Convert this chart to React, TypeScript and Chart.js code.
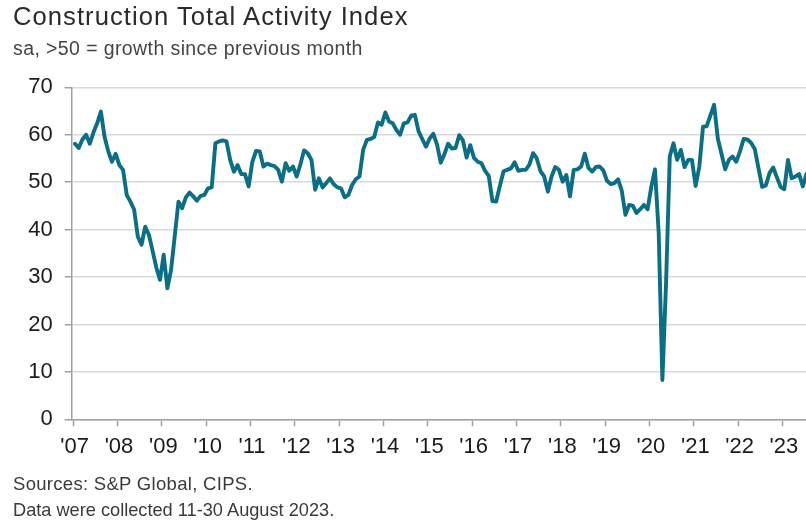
import React, { useEffect, useRef } from "react";
import { Chart, registerables } from "chart.js";

Chart.register(...registerables);

// ---- text ----
const TITLE = "Construction Total Activity Index";
const SUBTITLE = "sa, >50 = growth since previous month";
const SOURCE = "Sources: S&P Global, CIPS.";
const NOTE = "Data were collected 11-30 August 2023.";

// ---- data: monthly index values, Jan 2007 – Aug 2023 ----
const v2007 = [58.1, 57.2, 59.0, 60.0, 58.1, 60.5, 62.4, 64.9, 59.5, 56.5, 54.3, 56.0];
const v2008 = [53.6, 52.6, 47.3, 45.9, 44.2, 38.5, 36.8, 40.6, 38.9, 35.5, 32.0, 29.4];
const v2009 = [34.7, 27.6, 31.5, 38.7, 45.9, 44.5, 46.8, 47.8, 47.0, 46.1, 47.1, 47.3];
const v2010 = [48.7, 48.9, 58.2, 58.6, 58.8, 58.6, 54.7, 52.2, 53.6, 51.7, 51.7, 49.1];
const v2011 = [54.3, 56.6, 56.5, 53.3, 53.9, 53.6, 53.4, 52.6, 50.1, 54.0, 52.4, 53.3];
const v2012 = [51.2, 53.7, 56.7, 56.1, 54.7, 48.4, 50.8, 48.9, 49.8, 50.8, 49.6, 48.9];
const v2013 = [48.7, 46.8, 47.3, 49.4, 50.6, 51.2, 56.8, 58.9, 59.1, 59.5, 62.6, 62.1];
const v2014 = [64.7, 62.8, 62.4, 61.0, 60.0, 62.4, 62.6, 64.0, 64.2, 60.7, 59.1, 57.5];
const v2015 = [59.2, 60.2, 57.9, 54.1, 55.9, 58.1, 57.1, 57.2, 59.9, 58.8, 55.2, 57.8];
const v2016 = [55.1, 54.3, 54.0, 52.4, 51.3, 46.0, 45.9, 49.2, 52.3, 52.6, 52.9, 54.2];
const v2017 = [52.4, 52.6, 52.6, 53.7, 56.1, 55.0, 52.3, 51.2, 48.0, 51.2, 53.2, 52.6];
const v2018 = [50.1, 51.5, 47.0, 52.6, 52.7, 53.3, 56.0, 53.0, 52.2, 53.2, 53.3, 52.5];
const v2019 = [50.3, 49.6, 49.8, 50.6, 48.2, 43.1, 45.2, 45.0, 43.5, 44.3, 45.2, 44.3];
const v2020 = [49.0, 52.7, 39.3, 8.3, 28.9, 55.4, 58.2, 54.7, 56.8, 53.2, 54.7, 54.7];
const v2021 = [49.2, 53.3, 61.7, 61.8, 64.1, 66.3, 59.2, 56.0, 52.7, 54.7, 55.4, 54.3];
const v2022 = [56.5, 59.1, 59.0, 58.3, 57.0, 53.0, 49.0, 49.3, 51.9, 53.1, 51.0, 49.0];
const v2023 = [48.5, 54.7, 50.8, 51.2, 51.7, 49.1, 51.7, 50.8];

const yearSeries = [
  v2007, v2008, v2009, v2010, v2011, v2012, v2013, v2014, v2015,
  v2016, v2017, v2018, v2019, v2020, v2021, v2022, v2023,
];

const yearLabels = [
  "'07", "'08", "'09", "'10", "'11", "'12", "'13", "'14", "'15",
  "'16", "'17", "'18", "'19", "'20", "'21", "'22", "'23",
];

const yTickValues = [0, 10, 20, 30, 40, 50, 60, 70];

const LINE_COLOR = "#0a6e87";
const AXIS_COLOR = "#a0a0a0";
const GRID_COLOR = "#d9d9d9";
const LABEL_COLOR = "#1a1a1a";
const FONT = "'Liberation Sans', Arial, sans-serif";

export default function App() {
  const canvasRef = useRef<HTMLCanvasElement | null>(null);

  useEffect(() => {
    const canvas = canvasRef.current;
    if (!canvas) return;
    const values: number[] = ([] as number[]).concat(...yearSeries);
    const points = values.map((v, i) => ({ x: i + 0.5, y: v }));

    const chart = new Chart(canvas, {
      type: "line",
      data: {
        datasets: [
          {
            data: points,
            borderColor: LINE_COLOR,
            backgroundColor: LINE_COLOR,
            borderWidth: 3.9,
            pointRadius: 0,
            tension: 0,
            borderJoinStyle: "round",
            borderCapStyle: "round",
            fill: false,
          },
        ],
      },
      options: {
        animation: false,
        responsive: false,
        maintainAspectRatio: false,
        layout: { padding: { top: 87.3, right: 18, bottom: 52.7, left: 0 } },
        plugins: {
          legend: { display: false },
          tooltip: { enabled: false },
          title: { display: false },
        },
        scales: {
          x: {
            type: "linear",
            min: -0.4,
            max: 200,
            afterBuildTicks: (scale: any) => {
              scale.ticks = yearLabels.map((_, k) => ({ value: k * 12 }));
            },
            afterFit: (scale: any) => {
              scale.height = 50;
            },
            ticks: {
              autoSkip: false,
              maxRotation: 0,
              minRotation: 0,
              padding: 7,
              labelOffset: 1.5,
              color: LABEL_COLOR,
              font: { family: FONT, size: 22 },
              callback: (value: any) => yearLabels[Math.round(Number(value) / 12)] ?? "",
            },
            grid: {
              drawOnChartArea: false,
              drawTicks: true,
              tickLength: 7,
              tickColor: AXIS_COLOR,
              tickWidth: 1.5,
            },
            border: { display: true, color: AXIS_COLOR, width: 1.5 },
          },
          y: {
            min: 0,
            max: 70,
            afterBuildTicks: (scale: any) => {
              scale.ticks = yTickValues.map((v) => ({ value: v }));
            },
            afterFit: (scale: any) => {
              scale.width = 71.7;
            },
            ticks: {
              padding: 12,
              color: LABEL_COLOR,
              font: { family: FONT, size: 22 },
              callback: (value: any) => String(value),
            },
            grid: {
              color: GRID_COLOR,
              lineWidth: 1.5,
              drawTicks: true,
              tickLength: 7,
              tickColor: AXIS_COLOR,
              tickWidth: 1.5,
            },
            border: { display: true, color: AXIS_COLOR, width: 1.5 },
          },
        },
      },
    } as any);

    return () => chart.destroy();
  }, []);

  const textBase: React.CSSProperties = {
    position: "absolute",
    left: 13,
    whiteSpace: "nowrap",
    fontFamily: FONT,
    lineHeight: 1,
  };

  return (
    <div
      style={{
        position: "fixed",
        left: 0,
        top: 0,
        width: 806,
        height: 522,
        overflow: "hidden",
        background: "#ffffff",
      }}
    >
      <canvas
        ref={canvasRef}
        width={830}
        height={522}
        style={{ position: "absolute", left: 0, top: 0, width: 830, height: 522, display: "block" }}
      />
      <div style={{ ...textBase, top: 4.3, fontSize: 25.6, letterSpacing: 1.05, color: "#2a2a2a" }}>{TITLE}</div>
      <div style={{ ...textBase, top: 39.4, fontSize: 19.5, letterSpacing: 0.4, color: "#444444" }}>{SUBTITLE}</div>
      <div style={{ ...textBase, top: 475.0, fontSize: 18.5, letterSpacing: 0.3, color: "#3a3a3a" }}>{SOURCE}</div>
      <div style={{ ...textBase, top: 500.6, fontSize: 18.2, letterSpacing: 0, color: "#3a3a3a" }}>{NOTE}</div>
    </div>
  );
}
